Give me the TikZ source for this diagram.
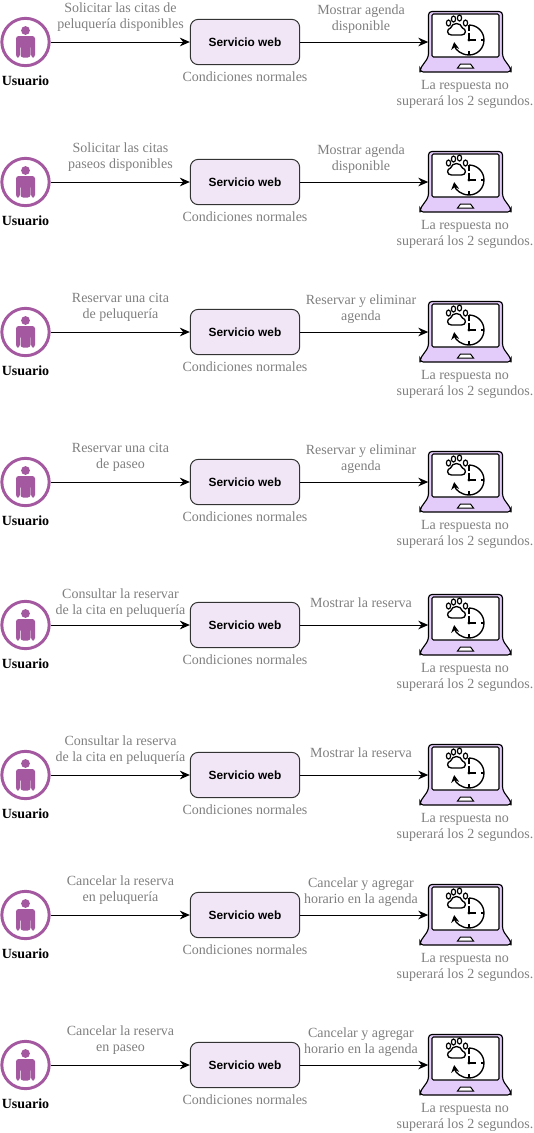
\documentclass[tikz,border=0pt]{standalone}
\usepackage{fontspec}
\setmainfont{Liberation Serif}
\setsansfont{Liberation Sans}
\usetikzlibrary{arrows.meta,positioning}

\definecolor{morado}{HTML}{A3589F}
\definecolor{lila}{HTML}{F0E6F6}
\definecolor{lavanda}{HTML}{E3CCFA}
\definecolor{gris}{HTML}{7F7F7F}

\tikzset{
	flecha/.style={-{Stealth[length=7.5pt,width=6.5pt]},line width=0.75pt},
	usuario/.style={circle,draw=morado,line width=2.2pt,fill=white,minimum size=35.5pt,inner sep=0pt},
	servicio/.style={rectangle,rounded corners=6pt,draw=black!80,line width=0.75pt,fill=lila,minimum width=82pt,minimum height=34pt,font=\sffamily\bfseries\fontsize{8.9}{10}\selectfont},
	portatil/.style={rectangle,minimum width=55.5pt,minimum height=45pt,inner sep=0pt},
	etiqueta/.style={align=center,text=gris,inner sep=0pt,font=\fontsize{10.5}{12}\selectfont},
	nombre/.style={align=center,inner sep=0pt,font=\bfseries\fontsize{10.5}{12}\selectfont},
	persona/.pic={
		\fill[morado] (0,11.5) circle (4.4);
		\fill[morado,rounded corners=2pt] (-9.5,-15.5) -- (-9.5,6) -- (9.5,6) -- (9.5,-15.5) -- (5.6,-15.5) -- (5.6,-3) -- (5,-3) -- (5,-15.5) -- (-5,-15.5) -- (-5,-3) -- (-5.6,-3) -- (-5.6,-15.5) -- cycle;
	},
	pantalla/.pic={
		% base y marco
		\draw[fill=lavanda,line width=0.85pt,rounded corners=2.5pt] (-37,-15) -- (-45.5,-27) -- (-45.5,-30) -- (45.5,-30) -- (45.5,-27) -- (37,-15) -- (37,30.5) -- (-37,30.5) -- cycle;
		\draw[fill=white,line width=0.85pt,rounded corners=1pt] (-33.5,-15) rectangle (33.5,28);
		\draw[fill=white,line width=0.75pt] (-8,-26) -- (-5,-22) -- (5,-22) -- (8,-26) -- cycle;
		% reloj
		\draw[line width=1pt,-{Stealth[length=5.5pt,width=6pt]}] (3.5,17) arc[start angle=90,end angle=-172,radius=15];
		\draw[line width=0.9pt] (3.5,17) -- (3.5,11) (18.5,2) -- (15,2) (3.5,-13) -- (3.5,-9) (3.5,2) -- (10,2) (3.5,2) -- (3.5,9);
		\fill (3.5,2) circle (1.7);
		% huella
		\draw[fill=white,line width=1pt] (-14,7) -- (-4,7) .. controls (1,7) and (1,13) .. (-3,14) .. controls (-5,20) and (-13,20) .. (-15,14) .. controls (-19,13) and (-19,7) .. (-14,7) -- cycle;
		\foreach \tx/\ty in {-17/19,-12/23,-6/24,0/19}
			\draw[fill=white,line width=0.9pt] (\tx,\ty) ellipse (2.1 and 3);
	}
}

% #1 distancia de la etiqueta izquierda, #2 fila, #3 altura, #4 y #5 etiquetas
\newcommand{\fila}[5][25]{
	\node[usuario] (u_#2) at (25.5,-#3) {};
	\pic at (u_#2) {persona};
	\node[nombre] (n_#2) at (25.5,-#3-39) {Usuario};
	\node[servicio] (s_#2) at (245,-#3) {Servicio web};
	\node[etiqueta] (c_#2) at (245,-#3-35) {Condiciones normales};
	\node[portatil] (p_#2) at (465.5,-#3) {};
	\pic at (p_#2) {pantalla};
	\node[etiqueta] (r_#2) at (465,-#3-52.5) {La respuesta no\\superará los 2 segundos.};
	\node[etiqueta] (a_#2) at (120.5,-#3+#1) {#4};
	\node[etiqueta] (b_#2) at (361,-#3+22.5) {#5};
	\draw[flecha] (u_#2) -- (s_#2);
	\draw[flecha] (s_#2) -- (p_#2);
}

\begin{document}
\begin{tikzpicture}[x=0.75pt,y=0.75pt]
	\useasboundingbox (0,0) rectangle (534,-1133);

	\fila{1}{42}{Solicitar las citas de\\peluquería disponibles}{Mostrar agenda\\disponible}
	\fila{2}{182}{Solicitar las citas\\paseos disponibles}{Mostrar agenda\\disponible}
	\fila{3}{332}{Reservar una cita\\de peluquería}{Reservar y eliminar\\agenda}
	\fila{4}{482}{Reservar una cita\\de paseo}{Reservar y eliminar\\agenda}
	\fila[22]{5}{625}{Consultar la reservar\\de la cita en peluquería}{Mostrar la reserva}
	\fila{6}{775}{Consultar la reserva\\de la cita en peluquería}{Mostrar la reserva}
	\fila{7}{915}{Cancelar la reserva\\en peluquería}{Cancelar y agregar\\horario en la agenda}
	\fila{8}{1065}{Cancelar la reserva\\en paseo}{Cancelar y agregar\\horario en la agenda}
\end{tikzpicture}
\end{document}
